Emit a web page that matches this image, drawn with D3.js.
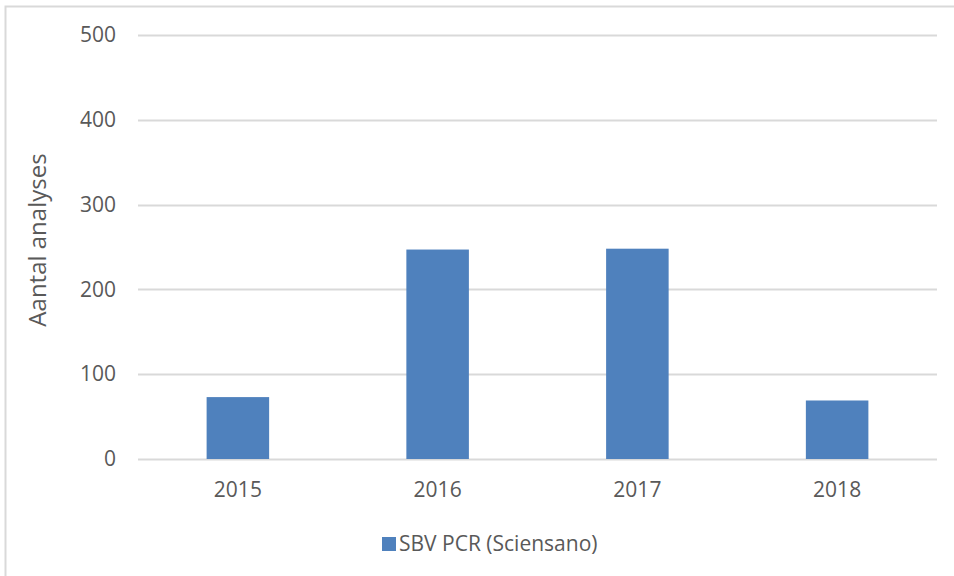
<!DOCTYPE html>
<html>
<head>
<meta charset="utf-8">
<script src="https://cdn.jsdelivr.net/npm/d3@7"></script>
<style>
  body { margin: 0; background: #fff; }
  text { font-family: "Open Sans", sans-serif; fill: #595959; }
</style>
</head>
<body>
<svg id="chart" width="954" height="576"></svg>
<script>
// data
var years = ["2015", "2016", "2017", "2018"];
var analyses = [73, 247, 248, 69];
var yTicks = [0, 100, 200, 300, 400, 500];
var seriesName = "SBV PCR (Sciensano)";

var svg = d3.select("#chart"),
    margin = {top: 35, right: 17, bottom: 117, left: 138},
    width = 954 - margin.left - margin.right,
    height = 576 - margin.top - margin.bottom;

// chart border (right and bottom edges are off-canvas)
svg.append("rect")
    .attr("x", 5.5).attr("y", 6.5)
    .attr("width", 1000).attr("height", 1000)
    .attr("fill", "none")
    .attr("stroke", "#d9d9d9")
    .attr("stroke-width", 2);

var g = svg.append("g")
    .attr("transform", "translate(" + margin.left + "," + margin.top + ")");

var x = d3.scaleBand()
    .domain(years)
    .range([0, width])
    .paddingInner(0.687)
    .paddingOuter(0.3435);

var y = d3.scaleLinear()
    .domain([0, 500])
    .range([height, 0]);

// gridlines
g.append("g")
    .selectAll("line")
    .data(yTicks)
    .enter().append("line")
    .attr("x1", 0).attr("x2", width)
    .attr("y1", function(d) { return Math.round(y(d)) + 0.5; })
    .attr("y2", function(d) { return Math.round(y(d)) + 0.5; })
    .attr("stroke", "#d9d9d9")
    .attr("stroke-width", 2);

// y axis labels
var yAxis = g.append("g")
    .call(d3.axisLeft(y).tickValues(yTicks).tickSize(0).tickPadding(22));
yAxis.select(".domain").remove();
yAxis.selectAll("text")
    .style("font-size", "21px")
    .attr("fill", "#595959");

// bars
g.selectAll(".bar")
    .data(analyses)
    .enter().append("rect")
    .attr("class", "bar")
    .attr("x", function(d, i) { return x(years[i]); })
    .attr("width", x.bandwidth())
    .attr("y", function(d) { return y(d); })
    .attr("height", function(d) { return height - y(d); })
    .attr("fill", "#4f81bd");

// x axis labels
var xAxis = g.append("g")
    .attr("transform", "translate(0," + height + ")")
    .call(d3.axisBottom(x).tickSize(0).tickPadding(23));
xAxis.select(".domain").remove();
xAxis.selectAll("text")
    .style("font-size", "21px")
    .attr("fill", "#595959");

// axis title
svg.append("text")
    .attr("transform", "translate(46," + (margin.top + height / 2 - 7) + ") rotate(-90)")
    .attr("text-anchor", "middle")
    .style("font-size", "24px")
    .text("Aantal analyses");

// legend
var legend = svg.append("g")
    .attr("transform", "translate(382,537)");
legend.append("rect")
    .attr("width", 14).attr("height", 14)
    .attr("fill", "#4f81bd");
legend.append("text")
    .attr("x", 17).attr("y", 7)
    .attr("dy", "0.35em")
    .style("font-size", "21px")
    .text(seriesName);
</script>
</body>
</html>
